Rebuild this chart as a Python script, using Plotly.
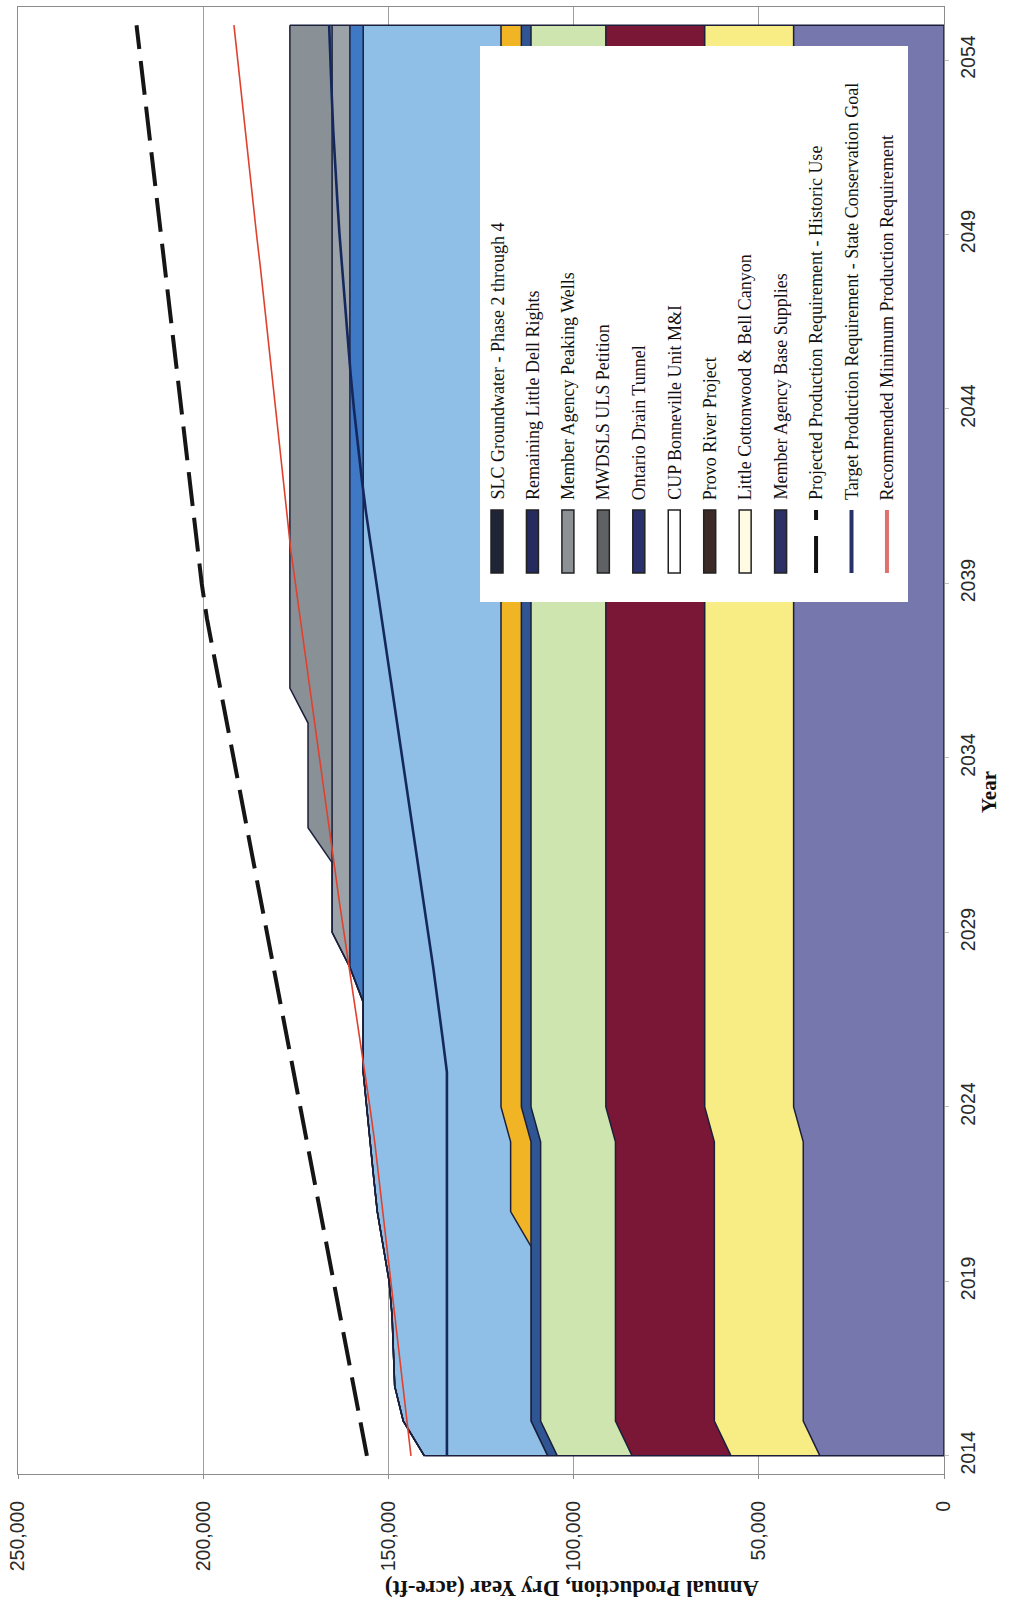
import plotly.graph_objects as go

# ---------------- data ----------------
years = list(range(2014, 2056))

base_supplies = [33500] + [38000] * 9 + [40600] * 32
little_cottonwood = [24000] * 42
provo_river = [26700] * 42
cup_bonneville = [20200] * 42
ontario_drain = [2600] * 42
ulsp_gold = [0] * 7 + [5500] * 35
peaking_wells = [33300, 34500, 36800, 37100, 37500, 38300, 40000, 36000, 37000, 38000,
                 36400, 37200] + [37200] * 30
little_dell = [0] * 14 + [3600] * 28
slc_groundwater = [0] * 15 + [4800] * 27
slc_groundwater_b = [0] * 18 + [6500] * 4 + [11400] * 20

projected_historic = [155800, 157600, 159400, 161200, 163000, 164800, 166600, 168400, 170200,
                      172000, 173800, 175600, 177400, 179200, 181000, 182800, 184600, 186400,
                      188200, 190000, 191800, 193600, 195400, 197200, 199000, 200400, 201500,
                      202600, 203700, 204800, 205900, 207000, 208100, 209200, 210300, 211400,
                      212500, 213600, 214700, 215800, 216900, 218000]
target_conservation = [134200] * 12 + [135400, 136600, 137900, 139300, 140700, 142100, 143500,
                       144900, 146300, 147700, 149100, 150500, 151900, 153300, 154700, 156000,
                       157200, 158300, 159300, 160200, 161000, 161800, 162500, 163200, 163800,
                       164400, 164900, 165300, 165700, 166000]
recommended_min = [143900, 145000, 146100, 147200, 148200, 149200, 150300, 151400, 152500,
                   153700, 155000, 156400, 157800, 159300, 160800, 162100, 163400, 164700,
                   166000, 167300, 168600, 169900, 171200, 172500, 173800, 175100, 176400,
                   177400, 178400, 179500, 180500, 181500, 182500, 183500, 184500, 185600,
                   186600, 187600, 188600, 189600, 190700, 191700]

prod_ticks = [0, 50000, 100000, 150000, 200000, 250000]
prod_tick_labels = ["0", "50,000", "100,000", "150,000", "200,000", "250,000"]
year_ticks = [2014, 2019, 2024, 2029, 2034, 2039, 2044, 2049, 2054]

legend_entries = [
    ("SLC Groundwater - Phase 2 through 4", "area", "#1f2436"),
    ("Remaining Little Dell Rights", "area", "#262b5e"),
    ("Member Agency Peaking Wells", "area", "#8c9196"),
    ("MWDSLS ULS Petition", "area", "#5f6164"),
    ("Ontario Drain Tunnel", "area", "#29306c"),
    ("CUP Bonneville Unit M&I", "area", "#ffffff"),
    ("Provo River Project", "area", "#3b2a26"),
    ("Little Cottonwood & Bell Canyon", "area", "#fffbe2"),
    ("Member Agency Base Supplies", "area", "#2c3066"),
    ("Projected Production Requirement - Historic Use", "dash", "#111111"),
    ("Target Production Requirement - State Conservation Goal", "line", "#26306a"),
    ("Recommended Minimum Production Requirement", "line", "#e0706c"),
]

# ---------------- geometry helpers (pixel -> paper) ----------------
W, H = 1023, 1612
L, R, T, B = 18, 944, 7, 1474


def px(x):
    return (x - L) / (R - L)


def py(y):
    return (B - y) / (B - T)


fig = go.Figure()

areas = [
    ("Member Agency Base Supplies", base_supplies, "#7577ad"),
    ("Little Cottonwood & Bell Canyon", little_cottonwood, "#f8ec84"),
    ("Provo River Project", provo_river, "#7a1636"),
    ("CUP Bonneville Unit M&I", cup_bonneville, "#cfe5b0"),
    ("Ontario Drain Tunnel", ontario_drain, "#2f5592"),
    ("MWDSLS ULS Petition", ulsp_gold, "#f0b425"),
    ("Member Agency Peaking Wells", peaking_wells, "#8fbfe6"),
    ("Remaining Little Dell Rights", little_dell, "#3f79c6"),
    ("SLC Groundwater - Phase 2", slc_groundwater, "#9ba3a9"),
    ("SLC Groundwater - Phases 3 and 4", slc_groundwater_b, "#8a9196"),
]
for name, vals, col in areas:
    fig.add_trace(go.Scatter(
        x=vals, y=years, name=name, stackgroup="supply", orientation="h",
        mode="lines", line=dict(color="#1b1f3b", width=1.5), fillcolor=col,
        showlegend=False, hoverinfo="x+y+name"))

# closing outline of the stacked block (first year, last year, zero baseline)
first_total = sum(vals[0] for _, vals, _ in areas)
last_total = sum(vals[-1] for _, vals, _ in areas)
fig.add_trace(go.Scatter(x=[first_total, 0, 0, last_total],
                         y=[years[0], years[0], years[-1], years[-1]],
                         mode="lines", line=dict(color="#1b1f3b", width=1.5),
                         showlegend=False, hoverinfo="skip"))

fig.add_trace(go.Scatter(x=recommended_min, y=years, mode="lines", showlegend=False,
                         line=dict(color="#e0412e", width=1.6),
                         name="Recommended Minimum Production Requirement"))
fig.add_trace(go.Scatter(x=target_conservation, y=years, mode="lines", showlegend=False,
                         line=dict(color="#14285e", width=2.6),
                         name="Target Production Requirement - State Conservation Goal"))
fig.add_trace(go.Scatter(x=projected_historic, y=years, mode="lines", showlegend=False,
                         line=dict(color="#151515", width=4, dash="34px,12px"),
                         name="Projected Production Requirement - Historic Use"))

shapes = []
annotations = []

# legend box
shapes.append(dict(type="rect", xref="paper", yref="paper", x0=px(480), x1=px(908),
                   y0=py(602), y1=py(46), fillcolor="white", line=dict(width=0),
                   layer="above"))
for i, (label, kind, col) in enumerate(legend_entries):
    cx = 497 + i * 35.45
    if kind == "area":
        shapes.append(dict(type="rect", xref="paper", yref="paper", x0=px(cx - 6),
                           x1=px(cx + 6), y0=py(573), y1=py(510), fillcolor=col,
                           line=dict(color="#222222", width=1.5), layer="above"))
    elif kind == "dash":
        shapes.append(dict(type="line", xref="paper", yref="paper", x0=px(cx), x1=px(cx),
                           y0=py(573), y1=py(536), line=dict(color=col, width=4),
                           layer="above"))
        shapes.append(dict(type="line", xref="paper", yref="paper", x0=px(cx), x1=px(cx),
                           y0=py(520), y1=py(510), line=dict(color=col, width=4),
                           layer="above"))
    else:
        shapes.append(dict(type="line", xref="paper", yref="paper", x0=px(cx), x1=px(cx),
                           y0=py(573), y1=py(510), line=dict(color=col, width=4),
                           layer="above"))
    annotations.append(dict(text=label, xref="paper", yref="paper", x=px(cx), y=py(502),
                            xanchor="center", yanchor="bottom", textangle=-90,
                            showarrow=False,
                            font=dict(family="Liberation Serif, Times New Roman, serif",
                                      size=18, color="#111111")))

annotations.append(dict(text="<b>Annual Production, Dry Year (acre-ft)</b>", xref="paper",
                        yref="paper", x=px(572), y=py(1588), textangle=180, showarrow=False,
                        xanchor="center", yanchor="middle",
                        font=dict(family="Liberation Serif, Times New Roman, serif",
                                  size=23, color="#111111")))
annotations.append(dict(text="<b>Year</b>", xref="paper", yref="paper", x=px(989),
                        y=py(792), textangle=-90, showarrow=False, xanchor="center",
                        yanchor="middle",
                        font=dict(family="Liberation Serif, Times New Roman, serif",
                                  size=21, color="#111111")))

tick_font = dict(family="Liberation Sans, Arial, sans-serif", size=19.5, color="#2a2a2a")

fig.update_layout(
    width=W, height=H,
    margin=dict(l=L, r=W - R, t=T, b=H - B),
    paper_bgcolor="white", plot_bgcolor="white",
    showlegend=False,
    shapes=shapes, annotations=annotations,
    xaxis=dict(range=[250000, 0], tickvals=prod_ticks, ticktext=prod_tick_labels,
               tickangle=-90, tickfont=tick_font, showgrid=True, gridcolor="#a0a0a0",
               gridwidth=1, showline=True, mirror=True, linecolor="#8c8c8c", linewidth=1,
               ticks="outside", ticklen=4, tickcolor="#8c8c8c", zeroline=False,
               ticklabelstandoff=14),
    yaxis=dict(range=[2013.48, 2055.52], side="right", tickvals=year_ticks,
               tickangle=-90, tickfont=tick_font, showgrid=False, showline=True,
               mirror=True, linecolor="#8c8c8c", linewidth=1, ticks="outside",
               ticklen=4, tickcolor="#c0c0c0", zeroline=False, ticklabelstandoff=3),
)

fig.write_html("out.html", config={"displayModeBar": False},
               post_script="document.body.style.margin='0';document.body.style.overflow='hidden';")
